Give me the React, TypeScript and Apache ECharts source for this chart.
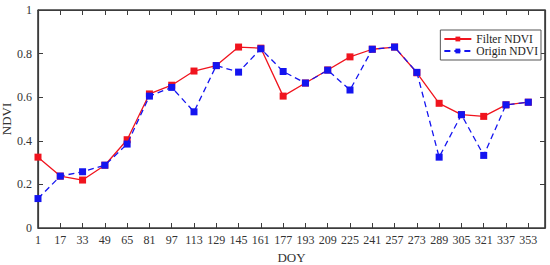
import React, { useEffect, useRef } from "react";
import * as echarts from "echarts";

const doy = [1, 17, 33, 49, 65, 81, 97, 113, 129, 145, 161, 177, 193, 209, 225, 241, 257, 273, 289, 305, 321, 337, 353];
const filterNdvi = [0.325, 0.238, 0.22, 0.288, 0.405, 0.615, 0.655, 0.72, 0.745, 0.83, 0.825, 0.605, 0.665, 0.725, 0.785, 0.82, 0.83, 0.712, 0.572, 0.52, 0.512, 0.565, 0.577];
const originNdvi = [0.135, 0.238, 0.258, 0.288, 0.385, 0.605, 0.645, 0.533, 0.745, 0.715, 0.822, 0.718, 0.665, 0.724, 0.633, 0.82, 0.83, 0.714, 0.325, 0.52, 0.333, 0.565, 0.577];
const yTicks = { min: 0, max: 1, interval: 0.2 };

const FONT = "'Liberation Serif', 'Times New Roman', serif";
const AX = "#3c3c3c";
const TXT = "#333";
const GRID = { left: 38, right: 5, top: 10, bottom: 37 };

export default function App() {
  const ref = useRef<HTMLDivElement>(null);
  useEffect(() => {
    const chart = echarts.init(ref.current!, null, { renderer: "svg" });
    const shift = (v: number) => v - 1;
    const xBase = {
      type: "value" as const,
      min: 0,
      max: 364,
      interval: 16,
      axisLine: { show: true, onZero: false, lineStyle: { color: AX, width: 1.2 } },
      axisTick: { show: true, inside: true, length: 5, lineStyle: { color: AX } },
      splitLine: { show: false },
    };
    const yBase = {
      type: "value" as const,
      min: yTicks.min,
      max: yTicks.max,
      interval: yTicks.interval,
      axisLine: { show: true, onZero: false, lineStyle: { color: AX, width: 1.2 } },
      axisTick: { show: true, inside: true, length: 5, lineStyle: { color: AX } },
      splitLine: { show: false },
    };
    chart.setOption({
      animation: false,
      backgroundColor: "#fff",
      textStyle: { fontFamily: FONT },
      grid: {
        ...GRID,
        containLabel: false,
        outerBoundsMode: "none",
        show: true,
        borderColor: AX,
        borderWidth: 1,
        backgroundColor: "transparent",
      },
      graphic: [
        {
          type: "rect",
          silent: true,
          z: 0,
          shape: { x: GRID.left, y: GRID.top, width: 550 - GRID.left - GRID.right, height: 265 - GRID.top - GRID.bottom },
          style: { fill: "none", stroke: AX, lineWidth: 1.2 },
        },
      ],
      legend: {
        orient: "vertical",
        right: 9,
        top: 30,
        itemWidth: 27,
        itemHeight: 6,
        itemGap: 0,
        padding: [3, 3, 3, 3],
        borderColor: "#555",
        borderWidth: 1,
        backgroundColor: "#fff",
        textStyle: { fontFamily: FONT, fontSize: 11.5, lineHeight: 11, color: "#222" },
        data: ["Filter NDVI", "Origin NDVI"],
      },
      xAxis: [
        {
          ...xBase,
          position: "bottom",
          name: "DOY",
          nameLocation: "middle",
          nameGap: 23,
          nameMoveOverlap: false,
          nameTextStyle: { fontFamily: FONT, fontSize: 13, color: TXT },
          axisLabel: {
            fontFamily: FONT,
            fontSize: 12,
            color: TXT,
            margin: 6,
            formatter: (v: number) => (v > 352 ? "" : String(v + 1)),
          },
        },
        { ...xBase, position: "top", axisLabel: { show: false } },
      ],
      yAxis: [
        {
          ...yBase,
          position: "left",
          name: "NDVI",
          nameLocation: "middle",
          nameGap: 25,
          nameMoveOverlap: false,
          nameTextStyle: { fontFamily: FONT, fontSize: 13, color: TXT },
          axisLabel: { fontFamily: FONT, fontSize: 12, color: TXT, margin: 6 },
        },
        { ...yBase, position: "right", axisLabel: { show: false } },
      ],
      series: [
        {
          name: "Filter NDVI",
          type: "line",
          data: doy.map((d, i) => [shift(d), filterNdvi[i]]),
          symbol: "rect",
          symbolSize: 7,
          itemStyle: { color: "#f0141e" },
          lineStyle: { color: "#f0141e", width: 1.3, type: "solid" },
          z: 2,
        },
        {
          name: "Origin NDVI",
          type: "line",
          data: doy.map((d, i) => [shift(d), originNdvi[i]]),
          symbol: "rect",
          symbolSize: 7,
          itemStyle: { color: "#1414f0" },
          lineStyle: { color: "#1414f0", width: 1.3, type: [6, 4] },
          z: 3,
        },
      ],
    });
    return () => chart.dispose();
  }, []);
  return (
    <div
      ref={ref}
      style={{ position: "absolute", left: 0, top: 0, width: 550, height: 265 }}
    />
  );
}
